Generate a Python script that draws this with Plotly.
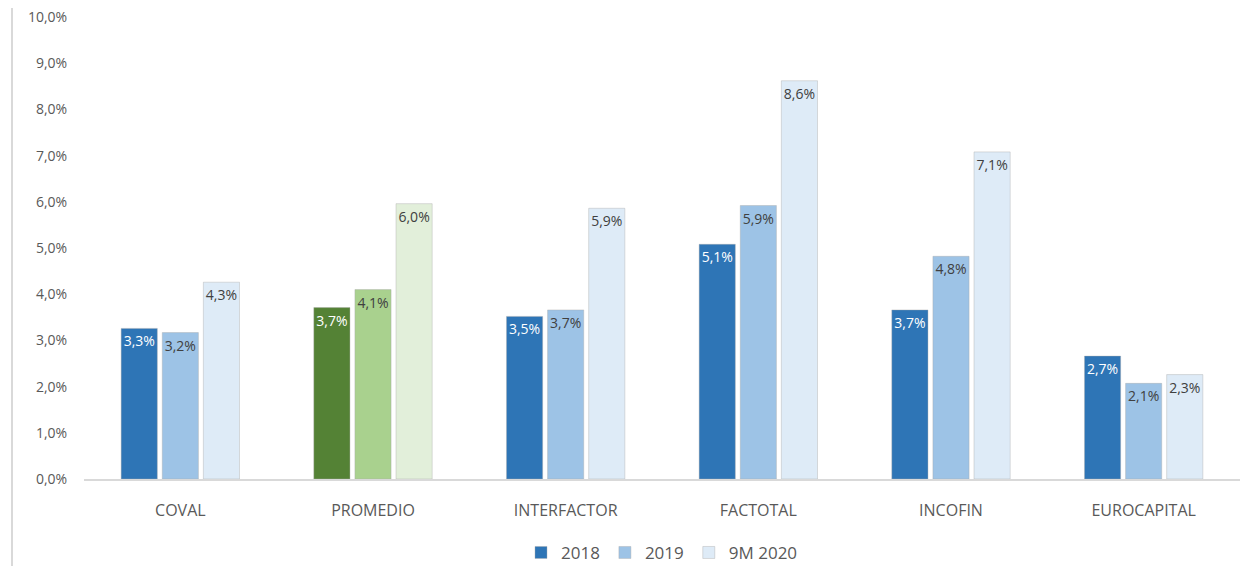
import plotly.graph_objects as go

categories = ["COVAL", "PROMEDIO", "INTERFACTOR", "FACTOTAL", "INCOFIN", "EUROCAPITAL"]
v2018 = [3.26, 3.71, 3.52, 5.08, 3.66, 2.66]
v2019 = [3.17, 4.10, 3.66, 5.92, 4.82, 2.07]
v2020 = [4.26, 5.96, 5.86, 8.62, 7.08, 2.26]
series_names = ["2018", "2019", "9M 2020"]
yticks = [0, 1, 2, 3, 4, 5, 6, 7, 8, 9, 10]
ytick_text = [f"{v:.1f}%".replace(".", ",") for v in yticks]

blue = ["#2E75B6", "#9DC3E6", "#DEEBF7"]
green = ["#548235", "#A9D18E", "#E2EFDA"]
text_colors = ["white", "#404040", "#404040"]

fig = go.Figure()
for i, (name, vals) in enumerate(zip(series_names, [v2018, v2019, v2020])):
    colors = [green[i] if c == "PROMEDIO" else blue[i] for c in categories]
    fig.add_trace(go.Bar(
        x=categories, y=vals, name=name,
        marker=dict(color=colors, line=dict(color="rgba(170,170,170,0.4)", width=1)),
        texttemplate="%{y:.1f}%", textposition="inside", insidetextanchor="end",
        textangle=0, constraintext="none",
        textfont=dict(family="Open Sans, sans-serif", size=14, color=text_colors[i]),
        hoverinfo="skip",
    ))

fig.update_layout(
    width=1241, height=558,
    margin=dict(l=76, r=9, t=9, b=87, autoexpand=False),
    plot_bgcolor="white", paper_bgcolor="white",
    barmode="group", bargap=0.36, bargroupgap=0.12,
    separators=",.",
    font=dict(family="Open Sans, sans-serif", color="#595959"),
    legend=dict(orientation="h", x=0.5, xanchor="center", y=-0.16, yanchor="middle",
                font=dict(size=17, color="#595959"), itemwidth=30, traceorder="normal"),
    showlegend=True,
    xaxis=dict(showline=True, linecolor="#D9D9D9", linewidth=1.5, ticks="outside",
               ticklen=16, tickcolor="rgba(0,0,0,0)", tickfont=dict(size=16, color="#595959"),
               showgrid=False, automargin=False),
    yaxis=dict(range=[0, 10], tickmode="array", tickvals=yticks, ticktext=ytick_text,
               showgrid=False, zeroline=False, showline=False, ticklabeloverflow="allow",
               ticks="outside", ticklen=13, tickcolor="rgba(0,0,0,0)",
               tickfont=dict(size=14, color="#595959"), automargin=False),
    shapes=[dict(type="line", xref="paper", yref="paper", x0=-72 / 1156, x1=-72 / 1156,
                 y0=-0.2, y1=1.05, line=dict(color="#D9D9D9", width=2))],
)

fig.write_html("out.html")
